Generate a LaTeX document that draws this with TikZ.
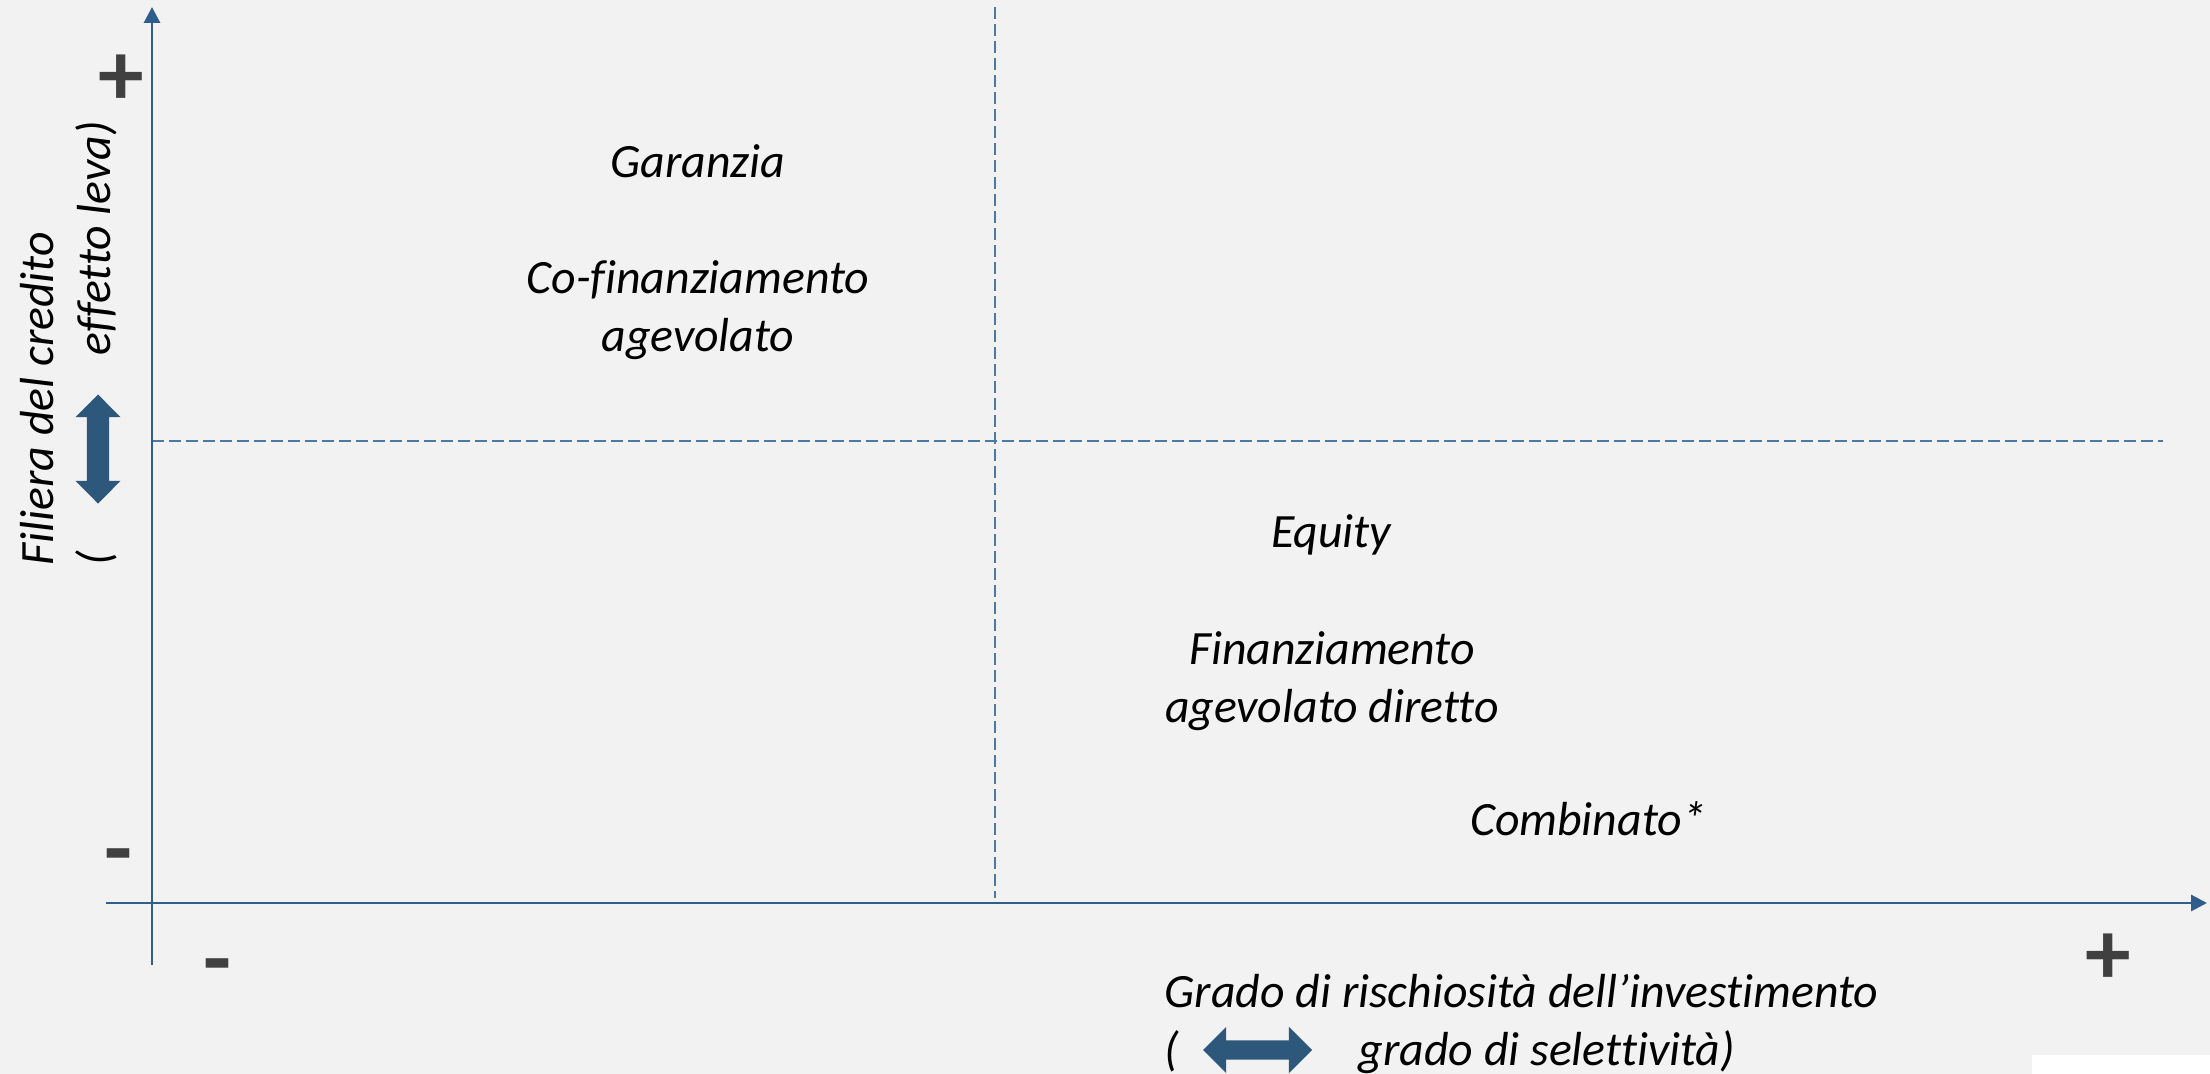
\documentclass[tikz,border=0pt]{standalone}
\usepackage{fontspec}
\setmainfont{Carlito}[Ligatures={NoCommon,TeX}]
\usepackage{tikz}
\usetikzlibrary{positioning}
\usetikzlibrary{arrows.meta,shapes.arrows}
\definecolor{bgray}{HTML}{F2F2F2}
\definecolor{axisblue}{HTML}{2F5E8C}
\definecolor{dashblue}{HTML}{4C79A6}
\definecolor{arrowblue}{HTML}{2D587B}
\definecolor{signgray}{HTML}{404040}
\tikzstyle{quadlabel} = [inner sep=0pt, align=center, font=\fontsize{13.6pt}{16.4pt}\selectfont\itshape]
\tikzstyle{axislabel} = [inner sep=0pt, font=\fontsize{13.6pt}{16.4pt}\selectfont\itshape]
\tikzstyle{sign} = [inner sep=0pt, text=signgray, font=\fontsize{26pt}{30pt}\selectfont\bfseries]
\tikzstyle{axis} = [axisblue, line width=0.85pt, -{Triangle[length=0.16cm,width=0.16cm]}]
\tikzstyle{divider} = [dashblue, line width=0.45pt, dash pattern=on 0.12cm off 0.05cm]
\tikzstyle{fatarrow} = [double arrow, fill=arrowblue, draw=none, double arrow tip angle=90]

\begin{document}
\begin{tikzpicture}
			\fill[bgray] (0,0) rectangle (22.10,-10.74);
			\useasboundingbox (0,0) rectangle (22.10,-10.74);
			\fill[white] (20.32,-10.55) rectangle (22.10,-10.74);
			% axes
			\coordinate (yfoot) at (1.52,-9.65);
			\coordinate (ytip) at (1.52,-0.07);
			\coordinate (xfoot) at (1.06,-9.03);
			\coordinate (xtip) at (22.07,-9.03);
			\coordinate (vtop) at (9.95,-0.07);
			\coordinate (vbot) at (9.95,-8.98);
			\coordinate (hleft) at (1.52,-4.41);
			\coordinate (hright) at (21.63,-4.41);
			\draw[divider] (vtop)--(vbot);
			\draw[divider] (hleft)--(hright);
			\draw[axis] (yfoot)--(ytip);
			\draw[axis] (xfoot)--(xtip);
			% signs
			\node (yplus) [sign] at (1.21,-0.80) {+};
			\node (yminus) [sign] at (1.18,-8.64) {-};
			\node (xminus) [sign] at (2.17,-9.74) {-};
			\node (xplus) [sign] at (21.08,-9.59) {+};
			% quadrants
			\node (garanzia) [quadlabel, anchor=base] at (6.98,-1.78) {Garanzia};
			\node (cofin) [quadlabel] at (6.98,-3.10) {Co-finanziamento\\agevolato};
			\node (equity) [quadlabel, anchor=base] at (13.31,-5.48) {Equity};
			\node (finanz) [quadlabel] at (13.32,-6.81) {Finanziamento\\agevolato diretto};
			\node (combinato) [quadlabel, anchor=base] at (15.88,-8.35) {Combinato*};
			% y axis label
			\node (ytitle) [axislabel, rotate=90, anchor=base west] at (0.53,-5.66) {Filiera del credito};
			\node (ypar) [axislabel, rotate=90, anchor=base west] at (1.10,-5.66) {(};
			\node (ylever) [axislabel, rotate=90, anchor=base west] at (1.10,-3.56) {effetto leva)};
			\node (yarrow) [fatarrow, rotate=90, minimum height=1.09cm, inner sep=0.105cm, double arrow head extend=0.115cm] at (0.98,-4.49) {};
			% x axis label
			\node (xtitle) [axislabel, anchor=base west] at (11.64,-10.07) {Grado di rischiosità dell’investimento};
			\node (xpar) [axislabel, anchor=base west] at (11.64,-10.65) {(};
			\node (xselect) [axislabel, anchor=base west] at (13.58,-10.65) {grado di selettività)};
			\node (xarrow) [fatarrow, minimum height=1.09cm, inner sep=0.09cm, double arrow head extend=0.135cm] at (12.575,-10.50) {};
		\end{tikzpicture}
\end{document}
